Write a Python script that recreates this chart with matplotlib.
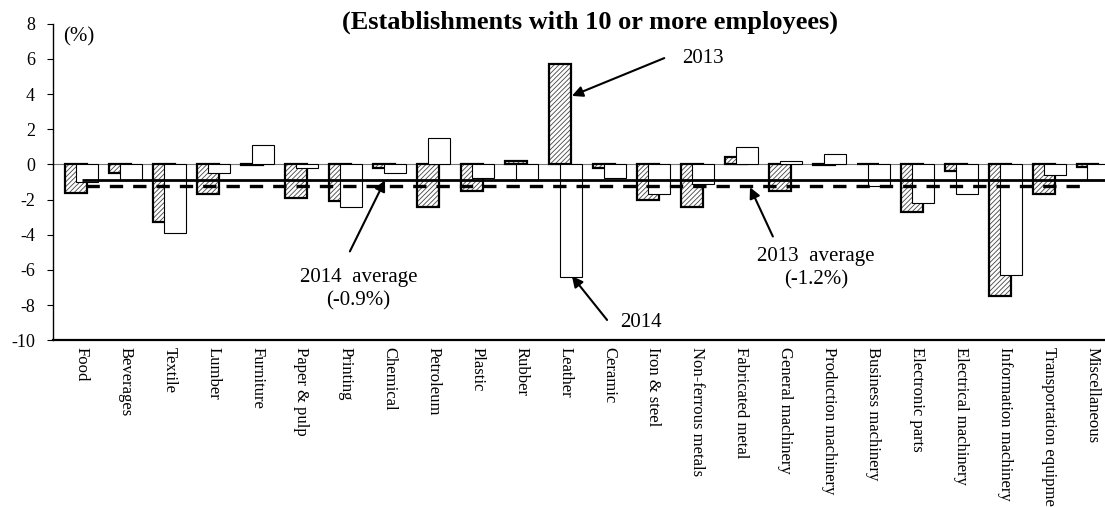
import matplotlib

matplotlib.use("Agg")
import matplotlib.pyplot as plt
import numpy as np

# Year-on-year change by industry (%), establishments with 10+ employees
categories = [
    "Food", "Beverages", "Textile", "Lumber", "Furniture", "Paper & pulp",
    "Printing", "Chemical", "Petroleum", "Plastic", "Rubber", "Leather",
    "Ceramic", "Iron & steel", "Non-ferrous metals", "Fabricated metal",
    "General machinery", "Production machinery", "Business machinery",
    "Electronic parts", "Electrical machinery", "Information machinery",
    "Transportation equipment", "Miscellaneous",
]
y2013 = [-1.6, -0.5, -3.3, -1.7, -0.05, -1.9, -2.1, -0.2, -2.4, -1.5, 0.2, 5.7,
         -0.2, -2.0, -2.4, 0.4, -1.5, -0.05, 0.0, -2.7, -0.4, -7.5, -1.7, -0.15]
y2014 = [-1.0, -0.9, -3.9, -0.5, 1.1, -0.2, -2.4, -0.5, 1.5, -0.8, -0.9, -6.4,
         -0.8, -1.7, -1.1, 1.0, 0.2, 0.6, -1.2, -2.2, -1.7, -6.3, -0.6, -0.9]
avg2013 = -1.2
avg2014 = -0.9
y_ticks = list(range(-10, 9, 2))

plt.rcParams["font.family"] = ["Liberation Serif", "DejaVu Serif"]
plt.rcParams["hatch.linewidth"] = 0.6

fig = plt.figure(figsize=(11.05, 5.07), dpi=100)
ax = fig.add_axes([0.048, 0.329, 0.967, 0.624])

x = np.arange(len(categories))
w = 0.5
off = 0.125

ax.axhline(0, color="#777777", lw=0.8, zorder=1)

# 2013: hatched fill then a heavy outline on top
ax.bar(x - off, y2013, w, facecolor="white", edgecolor="#444444",
       hatch="///////", linewidth=0, zorder=2)
ax.bar(x - off, y2013, w, fill=False, edgecolor="black", linewidth=1.6, zorder=3)
# 2014: plain white bars drawn over
ax.bar(x + off, y2014, w, facecolor="white", edgecolor="black", linewidth=0.8,
       zorder=4)

n = len(categories)
ax.hlines(avg2014, 0, n - 0.35, color="black", lw=2.0, zorder=5)
ax.hlines(avg2013, 0.1, n - 1.1, color="black", lw=2.4, linestyles=(0, (4, 3)),
          zorder=5)

ax.set_xlim(-0.65, n - 0.35)
ax.set_ylim(-10, 8)
ax.set_yticks(y_ticks)
ax.set_yticklabels([str(t) for t in y_ticks])
ax.set_xticks(x)
ax.set_xticklabels(categories, rotation=270, ha="center", va="top")
ax.tick_params(axis="x", length=0, labelsize=12, pad=5)
ax.tick_params(axis="y", direction="out", length=4, labelsize=13, pad=9)

for s in ("top", "right"):
    ax.spines[s].set_visible(False)
ax.spines["bottom"].set_linewidth(1.6)
ax.spines["left"].set_linewidth(1.0)

ax.text(0.009, 0.99, "(%)", transform=ax.transAxes, ha="left", va="top",
        fontsize=15)

arrow = dict(arrowstyle="-|>", color="black", lw=1.5, mutation_scale=16,
             shrinkA=0, shrinkB=0)
ax.annotate("", xy=(11.15, 3.9), xytext=(13.25, 6.05), arrowprops=arrow)
ax.text(13.65, 6.05, "2013", fontsize=15, ha="left", va="center")
ax.annotate("", xy=(11.15, -6.35), xytext=(11.95, -8.85), arrowprops=arrow)
ax.text(12.25, -9.0, "2014", fontsize=15, ha="left", va="center")
ax.annotate("", xy=(6.9, -0.9), xytext=(6.1, -4.95), arrowprops=arrow)
ax.text(6.3, -7.1, "2014  average\n(-0.9%)", fontsize=15, ha="center",
        va="center", linespacing=1.25)
ax.annotate("", xy=(15.2, -1.3), xytext=(15.72, -4.1), arrowprops=arrow)
ax.text(16.7, -5.9, "2013  average\n(-1.2%)", fontsize=15, ha="center",
        va="center", linespacing=1.25)

fig.text(0.5335, 0.98, "(Establishments with 10 or more employees)",
         ha="center", va="top", fontsize=19, fontweight="bold")

fig.savefig("out.png", dpi=100)
